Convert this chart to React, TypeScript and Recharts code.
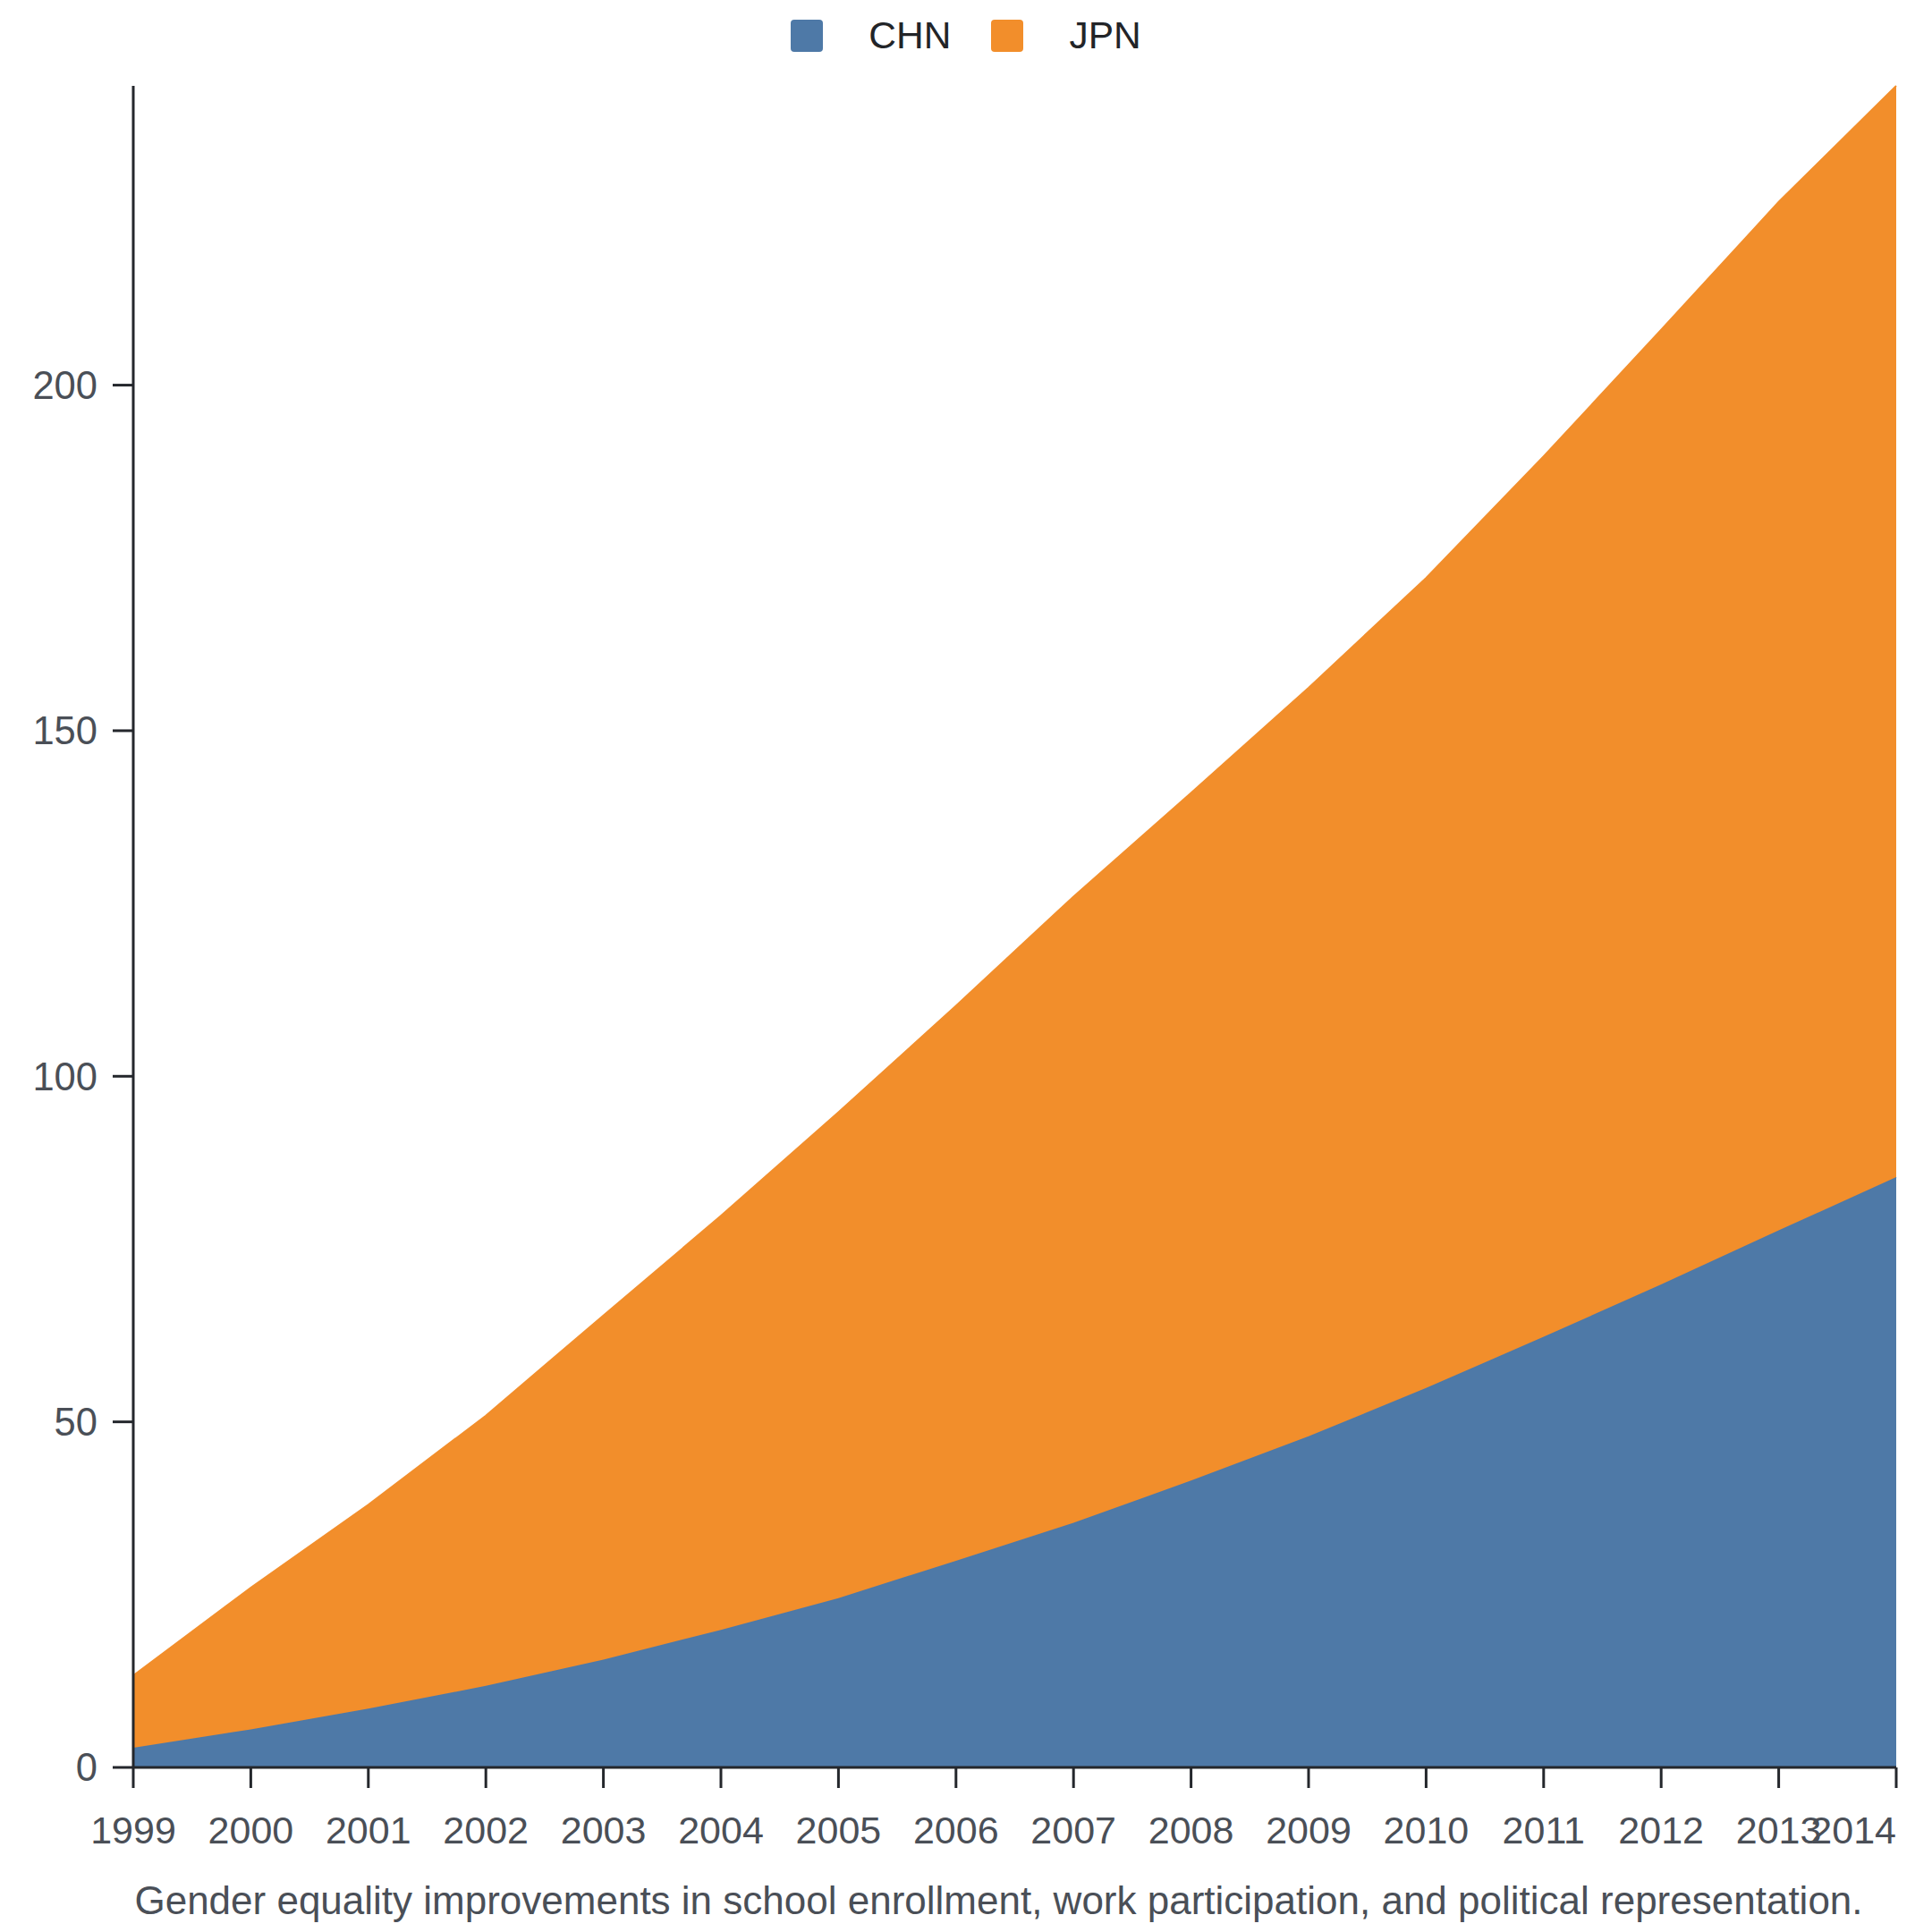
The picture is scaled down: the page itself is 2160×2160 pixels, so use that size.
import React from 'react';
import { AreaChart, Area, XAxis, YAxis, Legend } from 'recharts';

const years = ['1999', '2000', '2001', '2002', '2003', '2004', '2005', '2006', '2007', '2008', '2009', '2010', '2011', '2012', '2013', '2014'];
const chn = [2.85, 5.5, 8.5, 11.8, 15.6, 19.9, 24.5, 29.9, 35.4, 41.5, 47.9, 54.9, 62.3, 69.9, 77.7, 85.4];
const jpn = [10.45, 20.5, 29.5, 39.1, 49.8, 59.9, 70.3, 80.3, 90.6, 99.5, 108.3, 117.2, 127.4, 138.1, 148.8, 157.9];
const yTicks = [0, 50, 100, 150, 200];
const caption = 'Gender equality improvements in school enrollment, work participation, and political representation.';

const series = [
    { key: 'CHN', color: '#4e79a7' },
    { key: 'JPN', color: '#f28e2b' },
];

const rows = years.map((year, i) => ({ year, CHN: chn[i], JPN: jpn[i] }));

const FONT = '"Liberation Sans", Arial, Helvetica, sans-serif';
const TICK_COLOR = '#4a4f57';
const AXIS_COLOR = '#24272c';

function LegendBox() {
    return (
        <div
            style={{
                height: 96,
                boxSizing: 'border-box',
                paddingTop: 22,
                display: 'flex',
                justifyContent: 'center',
                alignItems: 'flex-start',
                fontFamily: FONT,
            }}
        >
            {series.map((s, i) => (
                <div key={s.key} style={{ display: 'flex', alignItems: 'center', marginLeft: i === 0 ? 0 : 45 }}>
                    <div style={{ width: 36, height: 36, borderRadius: 4, background: s.color }} />
                    <span style={{ marginLeft: 51, fontSize: 42.5, lineHeight: '36px', color: '#222428' }}>{s.key}</span>
                </div>
            ))}
        </div>
    );
}

function XTick(props: any) {
    const { x, y, payload } = props;
    const last = payload.value === years[years.length - 1];
    return (
        <text x={x} y={y} dy="0.71em" textAnchor={last ? 'end' : 'middle'} fill={TICK_COLOR} fontSize={43} fontFamily={FONT}>
            {payload.value}
        </text>
    );
}

function Caption(props: any) {
    const { viewBox } = props;
    return (
        <text
            x={viewBox.x + viewBox.width / 2 - 18}
            y={viewBox.y + viewBox.height - 20}
            textAnchor="middle"
            fill={TICK_COLOR}
            fontSize={44}
            fontFamily={FONT}
        >
            {caption}
        </text>
    );
}

export default function App() {
    return (
        <div style={{ position: 'absolute', left: 0, top: 0, width: 2160, height: 2160, background: '#fff', fontFamily: FONT }}>
            <AreaChart width={2160} height={2160} data={rows} margin={{ top: 0, right: 40, bottom: 0, left: 0 }}>
                <Legend verticalAlign="top" content={<LegendBox />} wrapperStyle={{ top: 0, left: 0, width: 2160 }} />
                <XAxis
                    dataKey="year"
                    height={184}
                    interval={0}
                    tickSize={23}
                    tickMargin={31}
                    axisLine={{ stroke: AXIS_COLOR, strokeWidth: 3 }}
                    tickLine={{ stroke: AXIS_COLOR, strokeWidth: 3 }}
                    tick={<XTick />}
                    label={<Caption />}
                />
                <YAxis
                    width={149}
                    domain={[0, 'dataMax']}
                    ticks={yTicks}
                    tickSize={23}
                    tickMargin={17}
                    axisLine={{ stroke: AXIS_COLOR, strokeWidth: 3 }}
                    tickLine={{ stroke: AXIS_COLOR, strokeWidth: 3 }}
                    tick={{ fill: TICK_COLOR, fontSize: 43.5, fontFamily: FONT }}
                />
                {series.map((s) => (
                    <Area
                        key={s.key}
                        type="linear"
                        dataKey={s.key}
                        stackId="a"
                        stroke={s.color}
                        strokeWidth={2}
                        fill={s.color}
                        fillOpacity={1}
                        dot={false}
                        activeDot={false}
                        isAnimationActive={false}
                    />
                ))}
            </AreaChart>
        </div>
    );
}
